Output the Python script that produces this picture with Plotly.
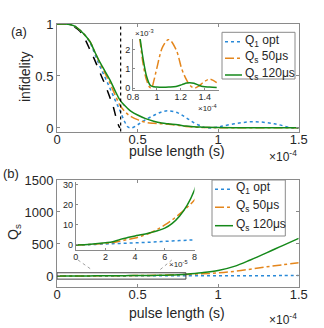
import plotly.graph_objects as go

# pulse length in units of 1e-4 s
t_a = [0, 0.05, 0.08, 0.11, 0.143, 0.175, 0.205, 0.235, 0.267, 0.3, 0.329, 0.36, 0.39,
       0.42, 0.44, 0.46, 0.5, 0.55, 0.6, 0.65, 0.69, 0.75, 0.8, 0.85, 0.9, 0.93, 1.0,
       1.1, 1.22, 1.35, 1.46, 1.5]
inf_q1opt = [1, 1, 0.995, 0.98, 0.94, 0.89, 0.82, 0.71, 0.59, 0.48, 0.38, 0.27, 0.17,
             0.06, 0.01, 0.0, 0.03, 0.08, 0.12, 0.155, 0.165, 0.145, 0.1, 0.05, 0.015, 0.0, 0.01,
             0.04, 0.06, 0.04, 0.0, 0.0]
inf_qs50 = [1, 1, 0.995, 0.98, 0.94, 0.89, 0.83, 0.73, 0.62, 0.52, 0.43, 0.32, 0.22,
            0.16, 0.13, 0.11, 0.08, 0.055, 0.045, 0.04, 0.035, 0.025, 0.015, 0.008, 0.005, 0.004, 0.003,
            0.002, 0.002, 0.001, 0.001, 0.001]
inf_qs120 = [1, 1, 0.995, 0.98, 0.94, 0.89, 0.83, 0.73, 0.63, 0.54, 0.46, 0.36, 0.27,
             0.215, 0.185, 0.16, 0.125, 0.09, 0.065, 0.048, 0.04, 0.03, 0.018, 0.012, 0.008, 0.006, 0.004,
             0.003, 0.002, 0.001, 0.001, 0.001]

# limit curve (black dashed)
t_lim = [0, 0.05, 0.08, 0.11, 0.143, 0.175, 0.205, 0.235, 0.267, 0.3, 0.329, 0.35, 0.365, 0.378, 0.39]
inf_lim = [1, 1, 0.99, 0.97, 0.93, 0.85, 0.75, 0.65, 0.53, 0.41, 0.29, 0.2, 0.11, 0.04, 0.0]
t_opt = 0.395

# inset (a): infidelity in units of 1e-3
ins_t = [0.84, 0.86, 0.886, 0.914, 0.942, 0.955, 0.975, 1.0, 1.05, 1.1, 1.16, 1.21, 1.25,
         1.275, 1.31, 1.35, 1.385, 1.44, 1.5]
ins_qs50 = [3.5, 2.4, 1.2, 0.4, 0.03, 0.0, 0.4, 1.05, 2.17, 2.52, 2.0, 0.95, 0.4,
            0.16, 0.0, 0.1, 0.28, 0.46, 0.28]
ins_qs120 = [3.5, 2.56, 1.47, 0.6, 0.16, 0.1, 0.07, 0.05, 0.04, 0.05, 0.08, 0.18, 0.26,
             0.28, 0.25, 0.15, 0.08, 0.05, 0.03]

# panel (b): Q_s
t_b = [0, 0.1, 0.2, 0.25, 0.3, 0.35, 0.4, 0.45, 0.5, 0.55, 0.6, 0.65, 0.7, 0.75, 0.8,
       0.9, 1.0, 1.1, 1.2, 1.3, 1.4, 1.5]
q_q1opt = [0, 0.2, 0.5, 0.65, 0.8, 0.95, 1.1, 1.25, 1.4, 1.6, 1.8, 2.0, 2.2, 2.4, 2.6,
           3.0, 3.4, 3.8, 4.3, 4.7, 5.2, 5.6]
q_qs50 = [0, 0.3, 0.8, 1.2, 2.0, 2.7, 3.5, 4.6, 6.0, 7.8, 10, 12.6, 15.5, 18.8, 22.5,
          33, 48, 72, 105, 142, 175, 206]
q_qs120 = [0, 0.4, 1.1, 1.6, 2.8, 3.7, 4.5, 5.2, 6.1, 7.1, 8.4, 10.8, 14.5, 19.8, 27.5,
           50, 85, 150, 250, 360, 475, 588]

legend_labels = ["Q<sub>1</sub> opt", "Q<sub>s</sub> 50μs", "Q<sub>s</sub> 120μs"]
colors = ["#2a8ad8", "#e4861c", "#15891a"]
dashes = ["dot", "dashdot", "solid"]

main_ticks = [0, 0.5, 1, 1.5]
main_ticktext = ["0", "0.5", "1", "1.5"]
ins_a_ticks = [0.8, 1.0, 1.2, 1.4]
ins_a_ticktext = ["0.8", "1", "1.2", "1.4"]
ins_b_ticks = [0, 0.2, 0.4, 0.6, 0.8]
ins_b_ticktext = ["0", "2", "4", "6", "8"]

W, H = 324, 328
def px(x):
    return x / W
def py(y):
    return 1 - y / H

FONT = "Liberation Sans, Arial, sans-serif"
AX = "#8a8a8a"
TXT = "#262626"

fig = go.Figure()

# panel (a) main
series_a = [inf_q1opt, inf_qs50, inf_qs120]
fig.add_trace(go.Scatter(x=t_lim, y=inf_lim, mode="lines", line=dict(color="black", dash="dash", width=1.5),
                         line_shape="spline", xaxis="x", yaxis="y", showlegend=False))
for ys, c, d in zip(series_a, colors, dashes):
    fig.add_trace(go.Scatter(x=t_a, y=ys, mode="lines", line=dict(color=c, dash=d, width=1.5),
                             line_shape="spline", xaxis="x", yaxis="y", showlegend=False))

# inset (a)
for ys, c, d in zip([ins_qs50, ins_qs120], colors[1:], dashes[1:]):
    fig.add_trace(go.Scatter(x=ins_t, y=ys, mode="lines", line=dict(color=c, dash=d, width=1.5),
                             line_shape="spline", xaxis="x2", yaxis="y2", showlegend=False))

# panel (b) main and inset
series_b = [q_q1opt, q_qs50, q_qs120]
for xa, ya in [("x3", "y3"), ("x4", "y4")]:
    for ys, c, d in zip(series_b, colors, dashes):
        fig.add_trace(go.Scatter(x=t_b, y=ys, mode="lines", line=dict(color=c, dash=d, width=1.5),
                                 line_shape="spline", xaxis=xa, yaxis=ya, showlegend=False))

main_ax = dict(showline=True, linecolor=AX, linewidth=1, mirror="ticks", ticks="inside",
               ticklen=3, tickcolor=AX, showgrid=False, zeroline=False, automargin=False,
               tickfont=dict(family=FONT, size=13, color=TXT))
ins_ax = dict(showline=True, linecolor=AX, linewidth=1, mirror=False, ticks="inside",
              ticklen=2, tickcolor=AX, showgrid=False, zeroline=False, automargin=False,
              tickfont=dict(family=FONT, size=9, color=TXT))

xd = [px(57), px(298.7)]
fig.update_layout(
    width=W, height=H, margin=dict(l=0, r=0, t=0, b=0),
    paper_bgcolor="white", plot_bgcolor="rgba(0,0,0,0)",
    xaxis=dict(main_ax, domain=xd, range=[0, 1.5], tickvals=main_ticks, ticktext=main_ticktext,
               anchor="y", ticklabelstandoff=-4),
    yaxis=dict(main_ax, domain=[py(131.5), py(24)], range=[-0.034, 1], tickvals=[0, 0.5, 1],
               ticktext=["0", "0.5", "1"], anchor="x"),
    xaxis2=dict(ins_ax, domain=[px(133), px(218.5)], range=[0.8, 1.515], tickvals=ins_a_ticks,
                ticktext=ins_a_ticktext, anchor="y2", ticklabelstandoff=-2),
    yaxis2=dict(ins_ax, domain=[py(90), py(39)], range=[-0.1, 2.55], tickvals=[0, 1, 2],
                ticktext=["0", "1", "2"], anchor="x2"),
    xaxis3=dict(main_ax, domain=xd, range=[0, 1.5], tickvals=main_ticks, ticktext=main_ticktext,
                anchor="y3", ticklabelstandoff=-4),
    yaxis3=dict(main_ax, domain=[py(286.5), py(180)], range=[-165, 1500], tickvals=[0, 500, 1000, 1500],
                ticktext=["0", "500", "1000", "1500"], anchor="x3"),
    xaxis4=dict(ins_ax, domain=[px(75.7), px(194.5)], range=[0, 0.8], tickvals=ins_b_ticks,
                ticktext=ins_b_ticktext, anchor="y4", ticklabelstandoff=-2),
    yaxis4=dict(ins_ax, domain=[py(250), py(181.7)], range=[-2.5, 31.6], tickvals=[0, 10, 20, 30],
                ticktext=["0", "10", "20", "30"], anchor="x4"),
)

shapes = []
# optimal time marker
shapes.append(dict(type="line", xref="x", yref="y domain", x0=t_opt, x1=t_opt, y0=0, y1=1,
                   line=dict(color="black", dash="dot", width=1.2)))
# zoom box and connector lines in (b)
shapes.append(dict(type="rect", xref="x3", yref="y3", x0=0, x1=0.8, y0=-50, y1=50,
                   line=dict(color="#444444", width=1)))
shapes.append(dict(type="line", xref="x3", yref="y3", x0=0.13, y0=250, x1=0.217, y1=94,
                   line=dict(color="#a0a0a0", dash="dot", width=1)))
shapes.append(dict(type="line", xref="x3", yref="y3", x0=0.713, y0=250, x1=0.638, y1=94,
                   line=dict(color="#a0a0a0", dash="dot", width=1)))

annotations = []
def text(x, y, s, size=13, xanchor="center", yanchor="middle", angle=0):
    annotations.append(dict(x=px(x), y=py(y), xref="paper", yref="paper", text=s, showarrow=False,
                            xanchor=xanchor, yanchor=yanchor, textangle=angle,
                            font=dict(family=FONT, size=size, color=TXT)))

# custom legends
def legend(x0, x1, y0, y1, rows, line_x0, line_x1):
    shapes.append(dict(type="rect", xref="paper", yref="paper", x0=px(x0), x1=px(x1), y0=py(y1), y1=py(y0),
                       line=dict(color=AX, width=1), fillcolor="white", layer="above"))
    for ry, lab, c, d in zip(rows, legend_labels, colors, dashes):
        shapes.append(dict(type="line", xref="paper", yref="paper", x0=px(line_x0), x1=px(line_x1),
                           y0=py(ry), y1=py(ry), line=dict(color=c, dash=d, width=1.5)))
        text(line_x1 + 1, ry - 1, lab, size=12, xanchor="left")

legend(222, 295, 32.3, 79, [41.7, 58.3, 75], 225, 242)
legend(212, 285.3, 180, 236, [189.3, 207.3, 225.7], 215, 233)

text(19, 32, "(a)", size=13)
text(11, 173, "(b)", size=13)
text(25, 77, "infidelity", size=14, angle=-90)
text(14, 232, "Q<sub>s</sub>", size=14, angle=-90)
text(177, 151, "pulse length (s)", size=14)
text(177, 313, "pulse length (s)", size=14)
text(299, 156, "×10<sup>-4</sup>", size=12, xanchor="right")
text(299, 319, "×10<sup>-4</sup>", size=12, xanchor="right")
text(133, 33, "×10<sup>-3</sup>", size=8, xanchor="left")
text(219, 108, "×10<sup>-4</sup>", size=8, xanchor="right")
text(190, 264, "×10<sup>-5</sup>", size=8, xanchor="right")

fig.update_layout(shapes=shapes, annotations=annotations)
fig.write_html("out.html", post_script="document.body.style.margin='0';",
               config={"displayModeBar": False})
